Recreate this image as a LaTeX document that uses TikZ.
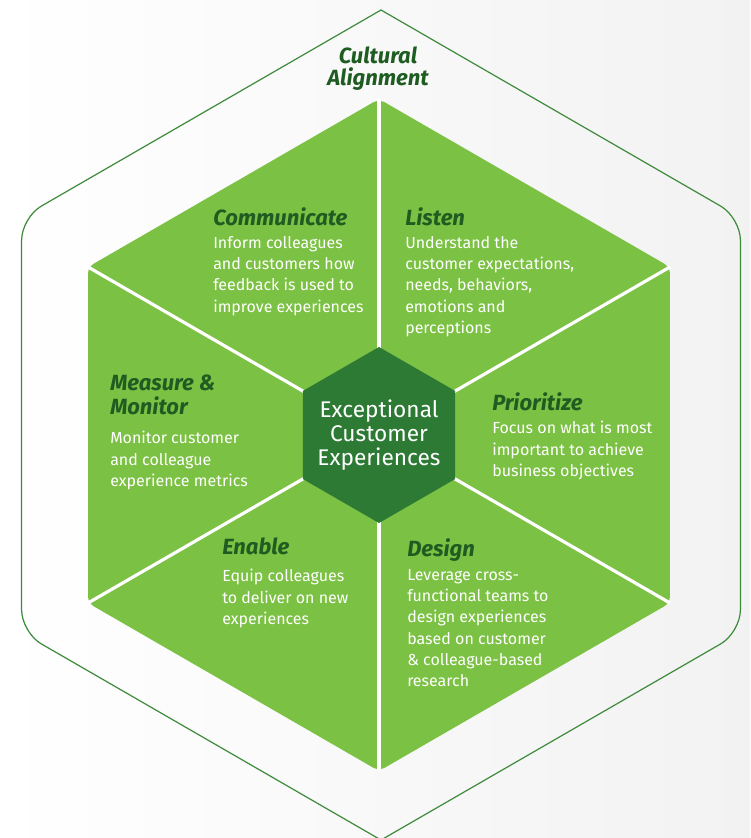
\documentclass[tikz,border=0pt]{standalone}
\usepackage{fontspec}
\setmainfont{Fira Sans}
\definecolor{leaf}{HTML}{7BC143}
\definecolor{forest}{HTML}{2D7A35}
\definecolor{deep}{HTML}{1E5C22}
\definecolor{rim}{HTML}{3D8A3A}
\definecolor{haze}{HTML}{F2F2F2}
\tikzset{
  head/.style={anchor=north west, align=left, inner sep=0pt, text=deep,
    font=\fontsize{16.5}{18}\selectfont\bfseries\itshape},
  body/.style={anchor=north west, align=left, inner sep=0pt, text=white,
    font=\fontsize{12}{16}\selectfont},
  divider/.style={white, line width=2.4pt}
}
\begin{document}
\begin{tikzpicture}[x=0.75pt, y=-0.75pt]
  \shade[left color=white, right color=haze] (0,0) rectangle (750,838);
  \useasboundingbox (0,0) rectangle (750,838);
  % outer frame
  \path (381,425)
    ++(-90:415) coordinate (o0)
    (381,425) ++(-150:415) coordinate (o1)
    (381,425) ++(150:415) coordinate (o2)
    (381,425) ++(90:415) coordinate (o3)
    (381,425) ++(30:415) coordinate (o4)
    (381,425) ++(-30:415) coordinate (o5);
  \draw[rim, line width=0.9pt]
    (o0) [rounded corners=17pt] -- (o1) -- (o2) [sharp corners] -- (o3)
    [rounded corners=17pt] -- (o4) -- (o5) [sharp corners] -- cycle;
  % green hexagon
  \coordinate (c) at (379,435);
  \path (c)
    ++(-90:336) coordinate (i0)
    (c) ++(-150:336) coordinate (i1)
    (c) ++(150:336) coordinate (i2)
    (c) ++(90:336) coordinate (i3)
    (c) ++(30:336) coordinate (i4)
    (c) ++(-30:336) coordinate (i5);
  \fill[leaf, rounded corners=5pt] (i0) -- (i1) -- (i2) -- (i3) -- (i4) -- (i5) -- cycle;
  \foreach \v in {i0,i1,i2,i3,i4,i5}
    \draw[divider] (c) -- (\v);
  % centre
  \begin{scope}[shift={(c)}]
    \fill[forest] (90:88) -- (30:88) -- (-30:88) -- (-90:88) -- (-150:88) -- (150:88) -- cycle;
  \end{scope}
  \node[text=white, align=center, font=\fontsize{17}{18}\selectfont]
    (core) at (c) {Exceptional\\Customer\\Experiences};
  % texts
  \node[align=center, inner sep=0pt, text=deep,
    font=\fontsize{16.5}{16.5}\selectfont\bfseries\itshape]
    (culture) at (378,69) {Cultural\\Alignment};
  \node[head] (comm) at (213,207) {Communicate};
  \node[body] (commtext) at (213,236) {Inform colleagues\\and customers how\\feedback is used to\\improve experiences};
  \node[head] (listen) at (405,207) {Listen};
  \node[body] (listentext) at (405,236) {Understand the\\customer expectations,\\needs, behaviors,\\emotions and\\perceptions};
  \node[head] (measure) at (110,375) {Measure \&\\Monitor};
  \node[body] (measuretext) at (110,431) {Monitor customer\\and colleague\\experience metrics};
  \node[head] (prior) at (492,392) {Prioritize};
  \node[body] (priortext) at (492,421) {Focus on what is most\\important to achieve\\business objectives};
  \node[head] (enable) at (222,538) {Enable};
  \node[body] (enabletext) at (222,569) {Equip colleagues\\to deliver on new\\experiences};
  \node[head] (design) at (407,538) {Design};
  \node[body] (designtext) at (407,569) {Leverage cross-\\functional teams to\\design experiences\\based on customer\\\& colleague-based\\research};
\end{tikzpicture}
\end{document}
